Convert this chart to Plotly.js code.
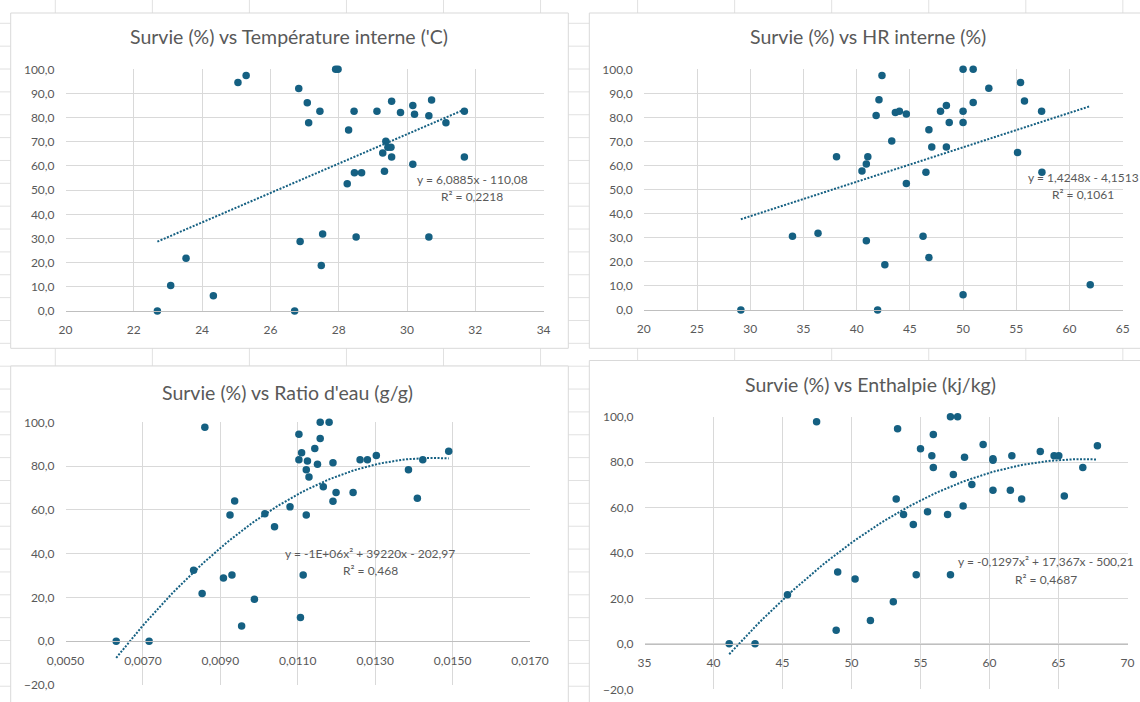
<!DOCTYPE html>
<html><head><meta charset="utf-8">
<script src="https://cdn.plot.ly/plotly-3.0.1.min.js"></script>
<style>html,body{margin:0;padding:0;background:#fff}#chart{width:1140px;height:702px}</style>
</head><body><div id="chart"></div>
<script>
// ---------- DATA ----------
const titles = [
  "Survie (%) vs Température interne ('C)",
  "Survie (%) vs HR interne (%)",
  "Survie (%) vs Ratio d'eau (g/g)",
  "Survie (%) vs Enthalpie (kj/kg)"
];
const trendLabels = [
  ["y = 6,0885x - 110,08", "R² = 0,2218"],
  ["y = 1,4248x - 4,1513", "R² = 0,1061"],
  ["y = -1E+06x² + 39220x - 202,97", "R² = 0,468"],
  ["y = -0,1297x² + 17,367x - 500,21", "R² = 0,4687"]
];
const trendDegree = [1, 1, 2, 2];

const temperature = [22.69,23.08,23.53,24.33,25.05,25.29,26.71,26.83,26.87,27.08,27.12,27.45,27.49,27.53,27.91,27.98,28.25,28.29,28.45,28.46,28.51,28.67,29.12,29.29,29.34,29.38,29.44,29.53,29.55,29.55,29.81,30.17,30.17,30.22,30.64,30.64,30.72,31.14,31.68,31.68];
const survieTemp = [0,10.5,21.8,6.3,94.5,97.4,0,92.1,28.8,86.2,77.9,82.6,18.8,31.9,100,100,52.6,74.9,82.6,57.2,30.6,57.2,82.6,65.4,57.8,70.2,67.7,67.7,63.7,86.8,82.1,85.0,60.7,81.4,80.8,30.6,87.3,77.9,82.6,63.7];

const humidite = [29.12,33.97,36.37,38.11,40.50,40.91,40.91,41.05,41.83,41.97,42.10,42.38,42.65,43.30,43.64,44.02,44.67,44.67,46.24,46.51,46.79,46.79,47.06,47.88,48.43,48.43,48.70,50.00,50.00,50.00,50.00,50.95,50.95,52.42,55.12,55.40,55.77,57.38,57.41,61.95];
const survieHR = [0,30.6,31.9,63.7,57.8,28.8,60.7,63.7,80.8,0,87.3,97.4,18.8,70.2,82.1,82.6,81.4,52.6,30.6,57.2,74.9,21.8,67.7,82.6,85.0,67.7,77.9,100,82.6,77.9,6.3,100,86.2,92.1,65.4,94.5,86.8,82.6,57.2,10.5];

const ratioEau = [0.00631,0.00716,0.00831,0.00853,0.00860,0.00908,0.00925,0.00930,0.00937,0.00955,0.00988,0.01015,0.01040,0.01080,0.01103,0.01103,0.01107,0.01110,0.01114,0.01122,0.01122,0.01125,0.01129,0.01144,0.01151,0.01158,0.01158,0.01166,0.01181,0.01191,0.01191,0.01199,0.01243,0.01261,0.01280,0.01303,0.01386,0.01409,0.01423,0.01490];
const survieRatio = [0,0,32.4,21.8,97.7,28.9,57.6,30.3,64.1,7.0,19.2,58.2,52.3,61.4,82.9,94.5,10.8,86.1,30.2,57.6,78.3,82.3,75.0,88.0,80.8,100,92.6,70.6,100,81.5,63.9,67.9,67.9,82.9,82.9,84.8,78.3,65.3,82.9,86.8];

const enthalpie = [41.14,43.01,45.36,47.47,48.89,49.00,50.26,51.37,53.03,53.24,53.34,53.77,54.48,54.69,55.00,55.51,55.82,55.93,55.93,56.96,57.17,57.17,57.38,57.69,58.09,58.19,58.72,59.54,60.25,60.25,60.25,61.51,61.62,62.33,63.68,64.68,65.02,65.42,66.76,67.82];
const survieEnth = [0,0,21.6,97.8,6.0,31.6,28.5,10.3,18.5,63.8,94.7,56.9,52.5,30.4,85.9,58.2,82.8,92.2,77.6,56.9,100,30.4,74.6,100,60.7,82.1,70.1,87.8,80.8,81.5,67.6,67.6,82.8,63.8,84.7,82.8,82.8,65.1,77.6,87.2];

const xRanges = [[20,34],[20,65],[0.005,0.017],[35,70]];
const xDticks = [2,5,0.002,5];
const xFormats = ['d','d','.4f','d'];
const yRanges = [[0,100],[0,100],[-20,100],[-20,100]];
const yDticks = [10,10,20,20];

// ---------- LAYOUT GEOMETRY (pixels) ----------
const W = 1140, H = 702;
const fx = p => p / W;
const fy = p => 1 - p / H;
const geo = [
  {l:65.5, r:543.6, t:69.3, b:311,  title:[289,37], lab:[[472,179,'center'],[472,196,'center']], frame:[10.7,13,568.3,348.3]},
  {l:643.8, r:1122.7, t:69.3, b:310, title:[868,37], lab:[[1026,177,'left'],[1083,194,'center']], frame:[589.3,13,1160,348.3]},
  {l:65.5, r:530,  t:422.3, b:685,  title:[287,392], lab:[[369.5,553.3,'center'],[370,570.7,'center']], frame:[10.7,366,568.3,720]},
  {l:644.5, r:1127.5, t:416.7, b:689.3, title:[870,384], lab:[[1046,561.7,'center'],[1046,579,'center']], frame:[589.3,360.5,1160,720]}
];

// ---------- least-squares trend (as Excel) ----------
function polyfit(xs, ys, deg) {
  const n = xs.length;
  const mx = xs.reduce((a,b)=>a+b,0)/n;
  const sx = Math.max(...xs) - Math.min(...xs);
  const u = xs.map(x => (x - mx)/sx);
  const m = deg + 1;
  const A = [], B = [];
  for (let i=0;i<m;i++){ A.push(new Array(m).fill(0)); B.push(0); }
  for (let k=0;k<n;k++){
    for (let i=0;i<m;i++){
      B[i] += ys[k]*Math.pow(u[k],i);
      for (let j=0;j<m;j++) A[i][j] += Math.pow(u[k],i+j);
    }
  }
  for (let i=0;i<m;i++){
    let p=i; for (let r=i+1;r<m;r++) if (Math.abs(A[r][i])>Math.abs(A[p][i])) p=r;
    [A[i],A[p]]=[A[p],A[i]]; [B[i],B[p]]=[B[p],B[i]];
    for (let r=i+1;r<m;r++){ const f=A[r][i]/A[i][i]; for(let c=i;c<m;c++) A[r][c]-=f*A[i][c]; B[r]-=f*B[i]; }
  }
  const c = new Array(m).fill(0);
  for (let i=m-1;i>=0;i--){ let s=B[i]; for(let j=i+1;j<m;j++) s-=A[i][j]*c[j]; c[i]=s/A[i][i]; }
  return x => { const t=(x-mx)/sx; let v=0; for(let i=0;i<m;i++) v+=c[i]*Math.pow(t,i); return v; };
}

const xs = [temperature, humidite, ratioEau, enthalpie];
const ys = [survieTemp, survieHR, survieRatio, survieEnth];
const COLOR = '#156082';
const TXT = '#595959';
const FONT = 'Lato, "Open Sans", sans-serif';

const traces = [];
const layout = {
  width: W, height: H, margin:{l:0,r:0,t:0,b:0},
  paper_bgcolor:'#ffffff', plot_bgcolor:'rgba(0,0,0,0)',
  separators: ', ', showlegend:false, hovermode:false,
  font:{family:FONT, color:TXT, size:12},
  annotations: [], shapes: []
};

// spreadsheet background cell lines
for (let k=0;k<12;k++){
  const x = 55.3 + 97.05*k;
  layout.shapes.push({type:'line', xref:'paper', yref:'paper', x0:fx(x), x1:fx(x), y0:0, y1:1, line:{color:'#e1e1e1', width:1}, layer:'below'});
}
for (let k=0;k<30;k++){
  const y = 23.3 + 22.86*k;
  if (y > H) break;
  layout.shapes.push({type:'line', xref:'paper', yref:'paper', x0:0, x1:1, y0:fy(y), y1:fy(y), line:{color:'#e1e1e1', width:1}, layer:'below'});
}

for (let i=0;i<4;i++){
  const g = geo[i];
  const sfx = i===0 ? '' : String(i+1);
  const xa = 'x'+sfx, ya = 'y'+sfx;
  // chart frame
  layout.shapes.push({type:'rect', xref:'paper', yref:'paper', x0:fx(g.frame[0]), x1:fx(g.frame[2]), y0:fy(g.frame[3]), y1:fy(g.frame[1]), fillcolor:'#ffffff', line:{color:'#d9d9d9', width:1}, layer:'below'});

  const yDom = [fy(g.b), fy(g.t)];
  const yr = yRanges[i];
  const xAxis = {
    domain:[fx(g.l), fx(g.r)], range:xRanges[i], dtick:xDticks[i], tick0:xRanges[i][0], tickmode:'linear',
    tickformat:xFormats[i], showgrid:true, gridcolor:'#d9d9d9', gridwidth:1, zeroline:false,
    showline:true, linecolor:'#bfbfbf', linewidth:1, ticks:'', ticklabelstandoff:8,
    tickfont:{family:FONT, color:TXT, size:12}, fixedrange:true
  };
  if (yr[0] < 0) {
    xAxis.anchor = 'free';
    xAxis.position = yDom[0] + (0 - yr[0])/(yr[1]-yr[0])*(yDom[1]-yDom[0]);
  } else {
    xAxis.anchor = ya;
  }
  layout['xaxis'+sfx] = xAxis;
  layout['yaxis'+sfx] = {
    domain:yDom, range:yr, dtick:yDticks[i], tick0:yr[0], tickmode:'linear', tickformat:'.1f',
    anchor:xa, showgrid:true, gridcolor:'#d9d9d9', gridwidth:1, zeroline:false, showline:false,
    ticks:'', ticklabelstandoff:10, tickfont:{family:FONT, color:TXT, size:12}, fixedrange:true
  };

  traces.push({x:xs[i], y:ys[i], xaxis:xa, yaxis:ya, type:'scatter', mode:'markers',
    marker:{color:COLOR, size:7.5, line:{width:0}}, cliponaxis:false, hoverinfo:'skip'});

  const f = polyfit(xs[i], ys[i], trendDegree[i]);
  const xmin = Math.min(...xs[i]), xmax = Math.max(...xs[i]);
  const N = trendDegree[i] === 1 ? 2 : 80;
  const tx = [], ty = [];
  for (let k=0;k<N;k++){ const x = xmin + (xmax-xmin)*k/(N-1); tx.push(x); ty.push(f(x)); }
  traces.push({x:tx, y:ty, xaxis:xa, yaxis:ya, type:'scatter', mode:'lines',
    line:{color:COLOR, width:2, dash:'2px,1.5px'}, cliponaxis:false, hoverinfo:'skip'});

  layout.annotations.push({text:titles[i], xref:'paper', yref:'paper', x:fx(g.title[0]), y:fy(g.title[1]),
    xanchor:'center', yanchor:'middle', showarrow:false, font:{family:FONT, size:19.5, color:TXT}});
  for (let j=0;j<2;j++){
    layout.annotations.push({text:trendLabels[i][j], xref:'paper', yref:'paper', x:fx(g.lab[j][0]), y:fy(g.lab[j][1]),
      xanchor:g.lab[j][2], yanchor:'middle', showarrow:false, font:{family:FONT, size:12, color:TXT}});
  }
}

Plotly.newPlot('chart', traces, layout, {staticPlot:true, displayModeBar:false});
</script>
</body></html>
